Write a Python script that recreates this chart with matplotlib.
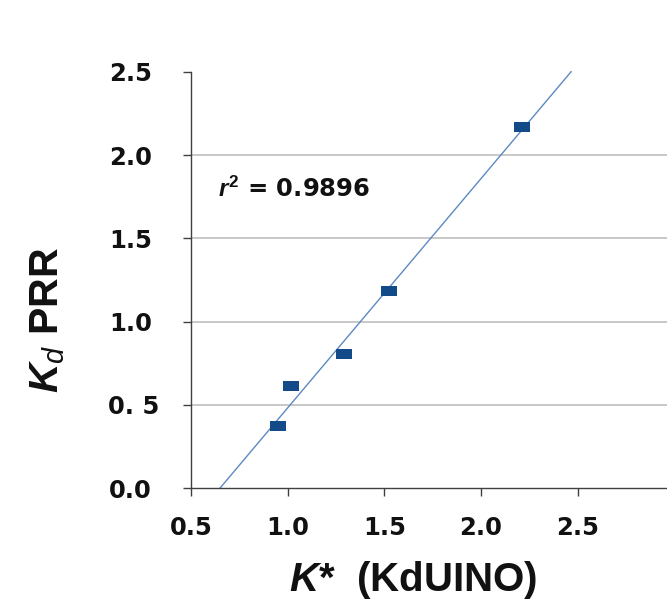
import numpy as np
import matplotlib
matplotlib.use("Agg")
import matplotlib.pyplot as plt
import matplotlib.transforms as mtransforms
from matplotlib.path import Path
from matplotlib import font_manager as fm


def find_font(name, bold, italic):
    for f in fm.fontManager.ttflist:
        if f.name != name:
            continue
        fn = f.fname.lower()
        if 'narrow' in fn:
            continue
        isbold = f.weight in ('bold', 700) or (isinstance(f.weight, int) and f.weight >= 600)
        isital = f.style in ('italic', 'oblique')
        if isbold == bold and isital == italic:
            return f.fname
    return None


bold_file = find_font('Liberation Sans', True, False)
plt.rcParams['mathtext.fontset'] = 'custom'
plt.rcParams['mathtext.rm'] = 'Liberation Sans:bold'
plt.rcParams['mathtext.it'] = 'Liberation Sans:italic:bold'
plt.rcParams['mathtext.bf'] = 'Liberation Sans:bold'
plt.rcParams['mathtext.sf'] = 'Liberation Sans:italic'

label_fp = fm.FontProperties(fname=bold_file) if bold_file else fm.FontProperties(family='Liberation Sans', weight='bold')

# Data
k_star = [0.948, 1.017, 1.289, 1.524, 2.210]
kd_prr = [0.374, 0.614, 0.804, 1.185, 2.170]
x_ticks = [0.5, 1.0, 1.5, 2.0, 2.5]
x_tick_labels = ["0.5", "1.0", "1.5", "2.0", "2.5"]
y_ticks = [0.0, 0.5, 1.0, 1.5, 2.0, 2.5]
y_tick_labels = ["0.0", "0. 5", "1.0", "1.5", "2.0", "2.5"]
r2_text = r"$r^2$ = 0.9896"

fig = plt.figure(figsize=(6.67, 6.03), dpi=100)
ax = fig.add_axes([191/667, 1 - 488.3/603, 1 - 191/667, (488.3 - 71.7)/603])

ax.set_xlim(0.5, 0.5 + (667 - 192.7) / 192.6)
ax.set_ylim(0.0, 2.5)

# gridlines (not at 0 or 2.5)
for yv in y_ticks[1:-1]:
    ax.axhline(yv, color='#C4C4C4', lw=1.3, zorder=0)

# regression line
slope, intercept = np.polyfit(k_star, kd_prr, 1)
x0 = (0.0 - intercept) / slope
x1 = (2.5 - intercept) / slope
ax.plot([x0, x1], [0.0, 2.5], color='#5B8AC2', lw=1.0, zorder=2, clip_on=False)

# rectangular markers
rect = Path([(-1, -0.66), (1, -0.66), (1, 0.66), (-1, 0.66), (-1, -0.66)],
            [Path.MOVETO, Path.LINETO, Path.LINETO, Path.LINETO, Path.CLOSEPOLY])
ax.plot(k_star, kd_prr, linestyle='none', marker=rect, markersize=11.5,
        color='#134A88', markeredgewidth=0, zorder=3)

for s in ['top', 'right']:
    ax.spines[s].set_visible(False)
for s in ['left', 'bottom']:
    ax.spines[s].set_color('#404040')
    ax.spines[s].set_linewidth(1.0)

ax.set_xticks(x_ticks)
ax.set_xticklabels(x_tick_labels)
ax.set_yticks(y_ticks)
ax.set_yticklabels(y_tick_labels)
ax.tick_params(axis='both', direction='out', length=6, width=1.0, color='#404040')
ax.tick_params(axis='y', pad=22)
ax.tick_params(axis='x', pad=14)
for lab in ax.get_xticklabels() + ax.get_yticklabels():
    lab.set_fontfamily('DejaVu Sans')
    lab.set_fontweight('bold')
    lab.set_fontsize(17.5)
    lab.set_color('#111111')

# the "0. 5" label sits a little further right in the reference
lab05 = ax.yaxis.get_major_ticks()[1].label1
lab05.set_transform(lab05.get_transform() +
                    mtransforms.ScaledTranslation(7/100, 0, fig.dpi_scale_trans))

fp_r2 = fm.FontProperties(family='DejaVu Sans', weight='bold', size=17.5)
ax.text(0.642, 1.748, r2_text, fontproperties=fp_r2,
        va='baseline', ha='left', color='#111111')

fp_y = label_fp.copy()
fp_y.set_size(29.5)
fig.text(48/667, 1 - 320/603, r"$K_\mathsf{d}$ PRR", rotation=90, fontproperties=fp_y,
         ha='center', va='center', color='#111111')
fp_x = label_fp.copy()
fp_x.set_size(29)
fig.text(413/667, 1 - 591/603, r"$K$*  (KdUINO)", fontproperties=fp_x,
         ha='center', va='baseline', color='#111111')

fig.savefig("out.png", dpi=100)
